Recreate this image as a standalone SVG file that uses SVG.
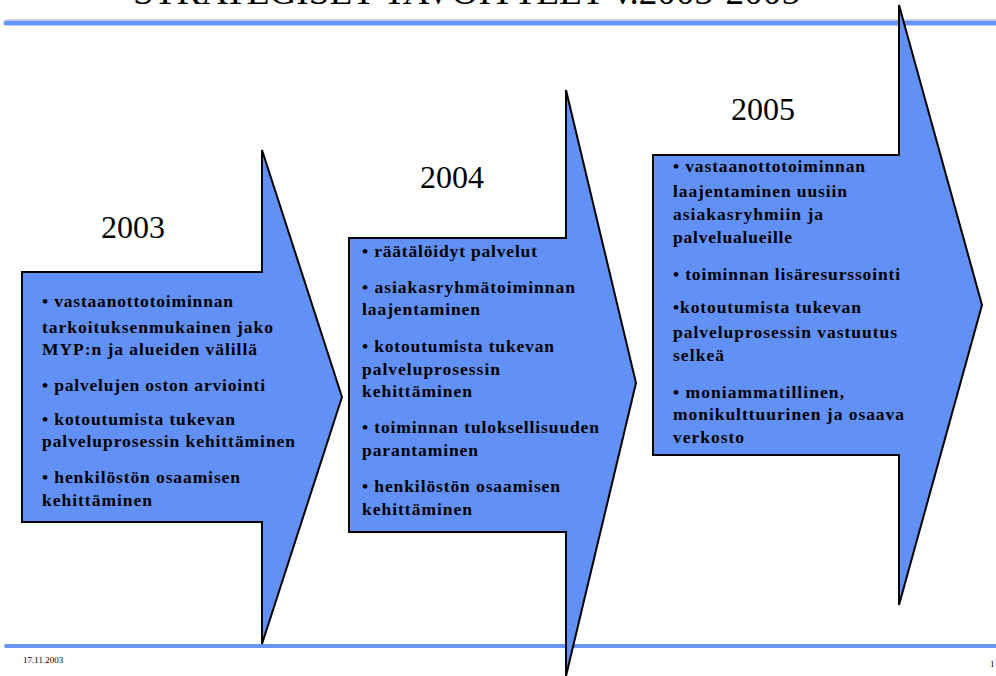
<svg xmlns="http://www.w3.org/2000/svg" width="996" height="676" viewBox="0 0 996 676">
<style>
.arrow{fill:#6190F7;stroke:#000;stroke-width:2;stroke-linejoin:miter}
.rule{stroke:#6894F8;stroke-linecap:round}
.year{font-family:"Liberation Serif","Times New Roman",serif;font-size:32px;fill:#000}
.item{font-family:"Liberation Serif","Times New Roman",serif;font-size:17.5px;font-weight:bold;fill:#000}
.foot{font-family:"Liberation Serif","Times New Roman",serif;font-size:9px;fill:#000}
.title{font-family:"Liberation Serif","Times New Roman",serif;font-size:36px;fill:#000}
</style>
<rect width="996" height="676" fill="#fff"/>
<text class="title" x="133" y="4" textLength="667" lengthAdjust="spacingAndGlyphs">STRATEGISET TAVOITTEET v.2003-2005</text>
<g id="rules">
<line x1="5" y1="19.5" x2="996" y2="19.5" stroke="#d9d9d9" stroke-width="1"/>
<line class="rule" x1="6" y1="23" x2="996" y2="23" stroke-width="5"/>
<line class="rule" x1="6" y1="646" x2="996" y2="646" stroke-width="4"/>
</g>
<g id="connectors"></g>
<g id="arrow2003">
<path class="arrow" d="M22,272 L262,272 L262,150 L342,397 L262,644 L262,522 L22,522 Z"/>
<text class="year" x="101" y="238">2003</text>
<text class="item" x="42" y="307" textLength="191" lengthAdjust="spacing">• vastaanottotoiminnan</text>
<text class="item" x="42" y="333" textLength="231" lengthAdjust="spacing">tarkoituksenmukainen jako</text>
<text class="item" x="42" y="355" textLength="215" lengthAdjust="spacing">MYP:n ja alueiden välillä</text>
<text class="item" x="42" y="391" textLength="223" lengthAdjust="spacing">• palvelujen oston arviointi</text>
<text class="item" x="42" y="425" textLength="193" lengthAdjust="spacing">• kotoutumista tukevan</text>
<text class="item" x="42" y="447" textLength="253" lengthAdjust="spacing">palveluprosessin kehittäminen</text>
<text class="item" x="42" y="483" textLength="198" lengthAdjust="spacing">• henkilöstön osaamisen</text>
<text class="item" x="42" y="506" textLength="110" lengthAdjust="spacing">kehittäminen</text>
</g>
<g id="arrow2004">
<path class="arrow" d="M349,238 L566,238 L566,90 L636,383 L566,676 L566,532 L349,532 Z"/>
<text class="year" x="420" y="188">2004</text>
<text class="item" x="362" y="257" textLength="175" lengthAdjust="spacing">• räätälöidyt palvelut</text>
<text class="item" x="362" y="293" textLength="213" lengthAdjust="spacing">• asiakasryhmätoiminnan</text>
<text class="item" x="362" y="315" textLength="118" lengthAdjust="spacing">laajentaminen</text>
<text class="item" x="362" y="352" textLength="192" lengthAdjust="spacing">• kotoutumista tukevan</text>
<text class="item" x="362" y="375" textLength="138" lengthAdjust="spacing">palveluprosessin</text>
<text class="item" x="362" y="397" textLength="110" lengthAdjust="spacing">kehittäminen</text>
<text class="item" x="362" y="433" textLength="237" lengthAdjust="spacing">• toiminnan tuloksellisuuden</text>
<text class="item" x="362" y="456" textLength="116" lengthAdjust="spacing">parantaminen</text>
<text class="item" x="362" y="492" textLength="198" lengthAdjust="spacing">• henkilöstön osaamisen</text>
<text class="item" x="362" y="515" textLength="110" lengthAdjust="spacing">kehittäminen</text>
</g>
<g id="arrow2005">
<path class="arrow" d="M653,155 L899,155 L899,5 L982,305 L899,605 L899,455 L653,455 Z"/>
<text class="year" x="731" y="120">2005</text>
<text class="item" x="673" y="172" textLength="192" lengthAdjust="spacing">• vastaanottotoiminnan</text>
<text class="item" x="673" y="197" textLength="174" lengthAdjust="spacing">laajentaminen uusiin</text>
<text class="item" x="673" y="220" textLength="150" lengthAdjust="spacing">asiakasryhmiin ja</text>
<text class="item" x="673" y="243" textLength="119" lengthAdjust="spacing">palvelualueille</text>
<text class="item" x="673" y="280" textLength="227" lengthAdjust="spacing">• toiminnan lisäresurssointi</text>
<text class="item" x="673" y="313" textLength="188" lengthAdjust="spacing">•kotoutumista tukevan</text>
<text class="item" x="673" y="338" textLength="224" lengthAdjust="spacing">palveluprosessin vastuutus</text>
<text class="item" x="673" y="361" textLength="51" lengthAdjust="spacing">selkeä</text>
<text class="item" x="673" y="398" textLength="171" lengthAdjust="spacing">• moniammatillinen,</text>
<text class="item" x="673" y="420" textLength="231" lengthAdjust="spacing">monikulttuurinen ja osaava</text>
<text class="item" x="673" y="443" textLength="71" lengthAdjust="spacing">verkosto</text>
</g>
<text class="foot" x="23" y="663">17.11.2003</text>
<text class="foot" x="990" y="667">1</text>
</svg>
